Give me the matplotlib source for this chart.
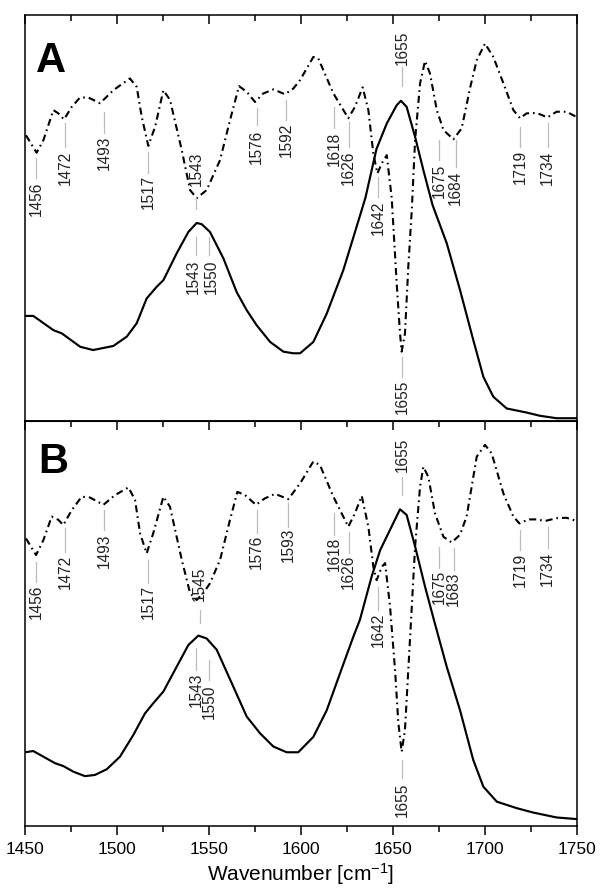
import matplotlib
matplotlib.use("Agg")
import matplotlib.pyplot as plt
import matplotlib.transforms as mtransforms
from matplotlib.ticker import MultipleLocator

plt.rcParams['font.family'] = ['Liberation Sans', 'DejaVu Sans']
plt.rcParams['mathtext.fontset'] = 'custom'
plt.rcParams['mathtext.rm'] = 'Liberation Sans'
plt.rcParams['mathtext.it'] = 'Liberation Sans'

# ---------------- data (arbitrary units) ----------------
# Panel A : absorbance spectrum
a_abs_wn = [1450, 1454.5, 1465.4, 1470, 1480, 1487, 1498, 1505.3, 1510.7, 1516.1, 1521.6,
            1525.2, 1532.4, 1538.8, 1543.3, 1546, 1550.5, 1557.8, 1565, 1570.5, 1575.9,
            1583.2, 1590.4, 1595.8, 1599.5, 1606.7, 1614, 1623, 1630.5, 1635, 1641,
            1646.6, 1652, 1654.3, 1657.4, 1662, 1666.5, 1671.5, 1679.2, 1686.4, 1693.6,
            1699.1, 1704.5, 1711.8, 1722.6, 1729.9, 1738.9, 1749.8]
a_abs_val = [0.259, 0.259, 0.224, 0.216, 0.183, 0.175, 0.185, 0.208, 0.241, 0.302, 0.331,
             0.347, 0.413, 0.466, 0.488, 0.485, 0.466, 0.401, 0.318, 0.273, 0.236,
             0.195, 0.171, 0.167, 0.167, 0.195, 0.265, 0.372, 0.483, 0.550, 0.670,
             0.733, 0.778, 0.789, 0.774, 0.700, 0.618, 0.532, 0.438, 0.323, 0.200,
             0.109, 0.060, 0.031, 0.021, 0.013, 0.007, 0.007]
# Panel A : second derivative
a_der_wn = [1450.5, 1456.3, 1460, 1465.4, 1468.1, 1471.2, 1475.4, 1479.9, 1484.4, 1490.8,
            1498, 1507, 1510.7, 1513.4, 1517, 1520.7, 1525.2, 1528.8, 1535.2, 1539.7,
            1543.3, 1548.7, 1556, 1561.4, 1566.3, 1570.5, 1575, 1579.5, 1585, 1591.3,
            1595.8, 1599.5, 1606.7, 1609.4, 1617.6, 1625.7, 1629.3, 1633.5, 1636.6, 1639.3,
            1641.5, 1643.9, 1646.6, 1649.3, 1652, 1653.8, 1654.7, 1656.5, 1658.3, 1660.2,
            1662, 1664.7, 1667.4, 1670.1, 1673.8, 1677.4, 1682.8, 1687.3, 1692, 1695.5,
            1700, 1704.5, 1710, 1715.4, 1719, 1722.6, 1728.1, 1733.9, 1738.9, 1744.3, 1749.8]
a_der_val = [0.704, 0.661, 0.692, 0.766, 0.758, 0.743, 0.774, 0.797, 0.797, 0.783,
             0.815, 0.844, 0.823, 0.750, 0.678, 0.725, 0.815, 0.791, 0.667, 0.569,
             0.549, 0.569, 0.643, 0.741, 0.825, 0.811, 0.786, 0.807, 0.817, 0.805,
             0.819, 0.840, 0.897, 0.893, 0.807, 0.746, 0.774, 0.822, 0.766, 0.659,
             0.610, 0.635, 0.655, 0.549, 0.339, 0.216, 0.171, 0.216, 0.380, 0.520,
             0.692, 0.832, 0.887, 0.856, 0.766, 0.717, 0.694, 0.721, 0.823, 0.889,
             0.930, 0.897, 0.832, 0.766, 0.746, 0.758, 0.759, 0.748, 0.762, 0.762, 0.749]

# Panel B : absorbance spectrum
b_abs_wn = [1450, 1454.5, 1460, 1466.3, 1470.8, 1476.3, 1482.6, 1488, 1494.4, 1501.6,
            1508.9, 1515.2, 1519.7, 1525.2, 1532.4, 1538.8, 1544.2, 1548.7, 1554.2, 1563.2,
            1570.5, 1577.7, 1585, 1592.2, 1598.5, 1606.7, 1614, 1621.2, 1628.4, 1632,
            1638.4, 1643, 1647.5, 1653.8, 1657.4, 1662, 1667.4, 1672.5, 1679.2, 1686.4,
            1693.6, 1699.1, 1706.4, 1717.2, 1726.3, 1738.9, 1749.8]
b_abs_val = [0.182, 0.185, 0.171, 0.155, 0.148, 0.134, 0.123, 0.126, 0.140, 0.171,
             0.225, 0.278, 0.303, 0.332, 0.393, 0.447, 0.470, 0.463, 0.435, 0.344,
             0.270, 0.229, 0.196, 0.182, 0.182, 0.220, 0.286, 0.377, 0.467, 0.509,
             0.616, 0.681, 0.723, 0.782, 0.768, 0.690, 0.591, 0.504, 0.393, 0.286,
             0.163, 0.097, 0.060, 0.044, 0.033, 0.021, 0.017]
# Panel B : second derivative
b_der_wn = [1450.5, 1456, 1460, 1464.5, 1468.1, 1470.8, 1475.4, 1480.8, 1485.3, 1492.6,
            1498.9, 1506.2, 1509.8, 1512.5, 1516.1, 1519.7, 1525.2, 1528.8, 1535.2, 1539.7,
            1543.3, 1546.9, 1550.5, 1556, 1561.4, 1565.4, 1569.6, 1575.5, 1580.4, 1585.9,
            1593.1, 1599.5, 1606.7, 1610.3, 1617.6, 1625.7, 1629.3, 1633, 1636.6, 1639.3,
            1641.1, 1643.9, 1645.7, 1648.4, 1651.1, 1652.9, 1654.7, 1656.5, 1657.8, 1659.2,
            1662, 1664.7, 1666.5, 1669.2, 1672.8, 1677.4, 1681.9, 1686.4, 1690, 1695.5,
            1700, 1703.6, 1710, 1715.4, 1718.7, 1723.6, 1728.1, 1732.6, 1738.9, 1744.3, 1749.8]
b_der_val = [0.710, 0.669, 0.706, 0.764, 0.756, 0.743, 0.780, 0.813, 0.811, 0.793,
             0.817, 0.836, 0.805, 0.723, 0.673, 0.723, 0.813, 0.788, 0.657, 0.575,
             0.558, 0.575, 0.599, 0.657, 0.756, 0.825, 0.817, 0.793, 0.809, 0.820,
             0.807, 0.846, 0.900, 0.891, 0.813, 0.739, 0.772, 0.815, 0.739, 0.640,
             0.607, 0.640, 0.649, 0.541, 0.385, 0.254, 0.183, 0.237, 0.344, 0.459,
             0.690, 0.838, 0.887, 0.862, 0.772, 0.714, 0.700, 0.719, 0.764, 0.912,
             0.941, 0.920, 0.821, 0.764, 0.747, 0.757, 0.757, 0.753, 0.760, 0.761, 0.753]

# band labels
a_labels = ['1456', '1472', '1493', '1517', '1543', '1576', '1592', '1618', '1626', '1642',
            '1655', '1655', '1675', '1684', '1719', '1734', '1543', '1550']
b_labels = ['1456', '1472', '1493', '1517', '1545', '1576', '1593', '1618', '1626', '1642',
            '1655', '1655', '1675', '1683', '1719', '1734', '1543', '1550']

# ---------------- layout of the band marks ----------------
# (marker line top, marker line bottom, text top) in axes fraction, text x nudge in cm-1
a_mark_layout = [(0.648, 0.599, 0.589, 0), (0.734, 0.675, 0.667, 0), (0.761, 0.709, 0.704, 0),
                 (0.663, 0.611, 0.606, 0), (0.549, 0.522, 0.663, 0), (0.771, 0.729, 0.717, 0),
                 (0.791, 0.741, 0.734, 0), (0.773, 0.722, 0.712, 0), (0.736, 0.675, 0.667, 0),
                 (0.601, 0.552, 0.544, 0), (0.872, 0.825, 0.963, 0), (0.158, 0.108, 0.101, 0),
                 (0.692, 0.643, 0.635, 0), (0.692, 0.626, 0.618, 0), (0.724, 0.675, 0.667, 0),
                 (0.734, 0.675, 0.667, 0), (0.453, 0.409, 0.397, -1.4), (0.453, 0.409, 0.397, 1.4)]
b_mark_layout = [(0.652, 0.602, 0.595, 0), (0.736, 0.677, 0.669, 0), (0.780, 0.731, 0.723, 0),
                 (0.657, 0.600, 0.595, 0), (0.533, 0.501, 0.640, 0), (0.780, 0.723, 0.719, 0),
                 (0.798, 0.738, 0.736, 0), (0.773, 0.719, 0.714, 0), (0.726, 0.674, 0.669, 0),
                 (0.590, 0.533, 0.528, 0), (0.862, 0.817, 0.958, 0), (0.163, 0.119, 0.106, 0),
                 (0.689, 0.637, 0.632, 0), (0.686, 0.632, 0.627, 0), (0.731, 0.681, 0.674, 0),
                 (0.738, 0.686, 0.677, 0), (0.440, 0.385, 0.378, 0), (0.410, 0.360, 0.348, 0)]

fig = plt.figure(figsize=(6.0, 8.94), dpi=100)
axA = fig.add_axes([0.0417, 0.529, 0.9200, 0.4541])
axB = fig.add_axes([0.0417, 0.0761, 0.9200, 0.4530])

DASH = (0, (3.4, 1.9, 0.8, 1.9))


def draw_panel(ax, abs_wn, abs_val, der_wn, der_val, labels, layout, letter, letter_pos):
    ax.plot(abs_wn, abs_val, color='black', lw=1.55, solid_joinstyle='round')
    ax.plot(der_wn, der_val, color='black', lw=1.5, linestyle=DASH)
    trans = mtransforms.blended_transform_factory(ax.transData, ax.transAxes)
    for lab, (lt, lb, tt, dx) in zip(labels, layout):
        x = float(lab)
        ax.plot([x, x], [lb, lt], color='#bdbdbd', lw=0.9, transform=trans)
        ax.text(x + dx, tt, lab, rotation=90, ha='center', va='top', fontsize=11.2,
                color='#222222', transform=trans)
    ax.text(letter_pos[0], letter_pos[1], letter, transform=ax.transAxes,
            fontsize=30, fontweight='bold', ha='left', va='baseline')
    ax.set_xlim(1450, 1750)
    ax.set_ylim(0, 1)
    ax.set_yticks([])
    for s in ax.spines.values():
        s.set_linewidth(1.1)
    ax.xaxis.set_major_locator(MultipleLocator(50))
    ax.xaxis.set_minor_locator(MultipleLocator(25))


draw_panel(axA, a_abs_wn, a_abs_val, a_der_wn, a_der_val, a_labels, a_mark_layout, 'A', (0.019, 0.860))
draw_panel(axB, b_abs_wn, b_abs_val, b_der_wn, b_der_val, b_labels, b_mark_layout, 'B', (0.024, 0.872))

# panel A: ticks only on top, pointing inward
axA.tick_params(axis='x', which='both', direction='in', top=True, bottom=False,
                labelbottom=False, labeltop=False, width=1.1)
axA.tick_params(axis='x', which='major', length=6.5)
axA.tick_params(axis='x', which='minor', length=4)

# panel B: bottom ticks outward with labels, top ticks inward
axB.tick_params(axis='x', which='both', direction='out', top=False, bottom=True,
                width=1.1, labelsize=12.5, pad=5)
axB.tick_params(axis='x', which='major', length=6.5)
axB.tick_params(axis='x', which='minor', length=4)
secB = axB.secondary_xaxis('top')
secB.xaxis.set_major_locator(MultipleLocator(50))
secB.xaxis.set_minor_locator(MultipleLocator(25))
secB.tick_params(axis='x', which='both', direction='in', labeltop=False, width=1.1)
secB.tick_params(axis='x', which='major', length=6.5)
secB.tick_params(axis='x', which='minor', length=4)

axB.set_xlabel(r'Wavenumber [cm$^{-1}$]', fontsize=15, labelpad=3)

fig.savefig('out.png', dpi=100)
